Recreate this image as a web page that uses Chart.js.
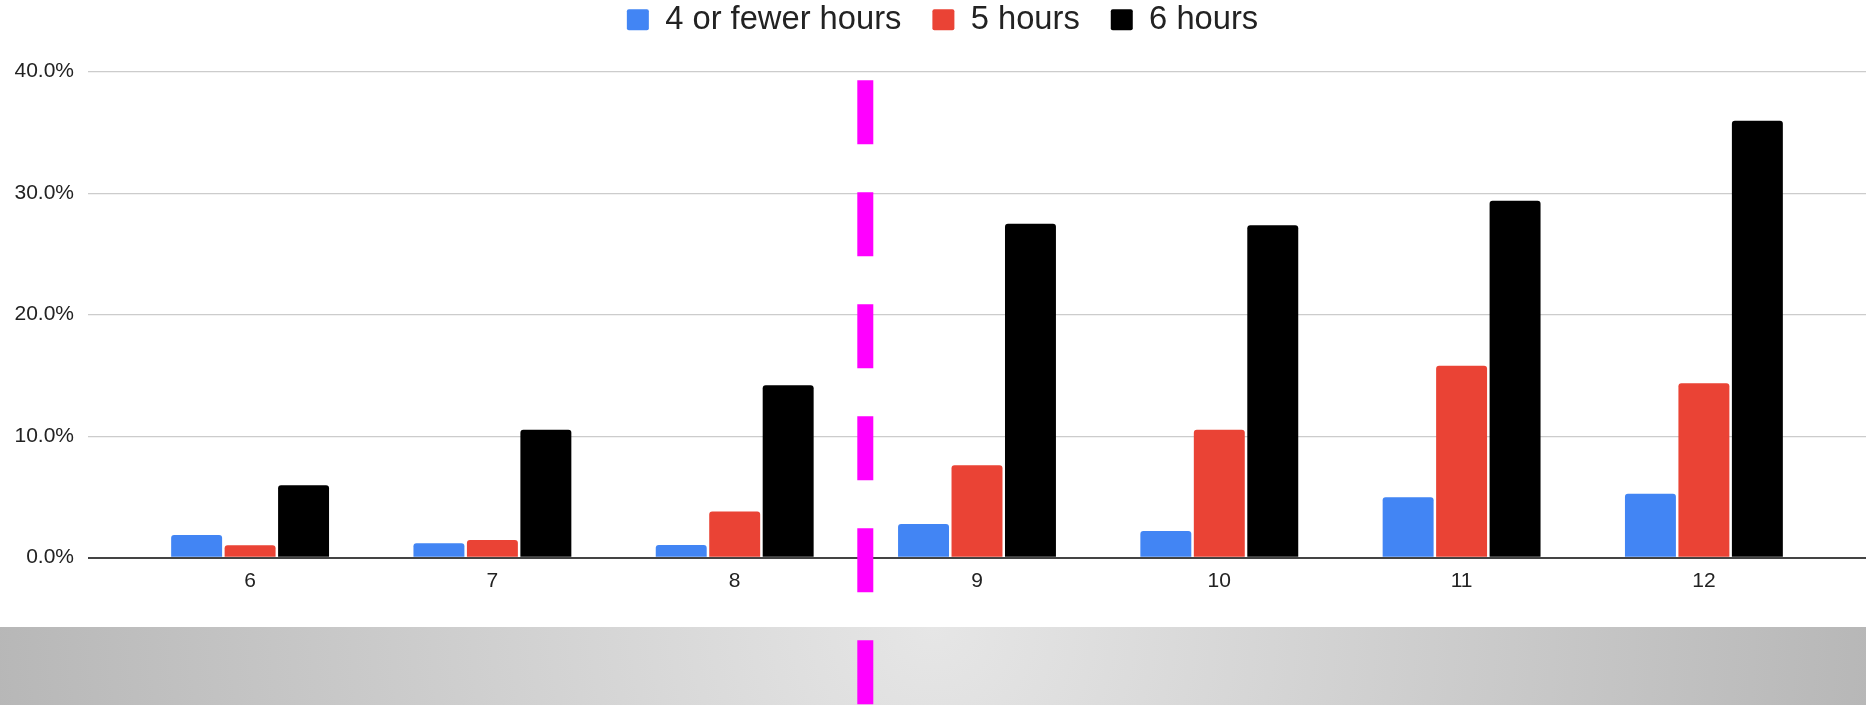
<!DOCTYPE html>
<html>
<head>
<meta charset="utf-8">
<script src="https://cdn.jsdelivr.net/npm/chart.js@4/dist/chart.umd.min.js"></script>
<style>
  html, body { margin: 0; padding: 0; width: 1866px; height: 705px; overflow: hidden; background: #ffffff; }
  #band { position: absolute; left: 0; top: 627px; width: 1866px; height: 78px;
          background: radial-gradient(960px 960px at 50% 0%, #e6e6e6 0%, #b6b6b6 100%); }
  #wrap { position: absolute; left: 0; top: 0; width: 1866px; height: 705px; }
</style>
</head>
<body>
<div id="band"></div>
<div id="wrap"><canvas id="c"></canvas></div>
<script>
// ---- data ----
const categories = [6, 7, 8, 9, 10, 11, 12];
const seriesNames = ['4 or fewer hours', '5 hours', '6 hours'];
const fourOrFewer = [1.87, 1.19, 1.05, 2.77, 2.20, 4.97, 5.27];
const fiveHours   = [1.02, 1.46, 3.80, 7.60, 10.53, 15.80, 14.35];
const sixHours    = [5.96, 10.53, 14.19, 27.49, 27.36, 29.38, 35.97];
const yTicks = [0, 10, 20, 30, 40];
const dividerX = 8.539;      // position of the magenta dashed divider (x units)
const dividerTopY = 39.3;    // where the divider starts (y units)

const colors = ['#4285F4', '#EA4335', '#000000'];
const FONT = "'Liberation Sans', Arial, sans-serif";

const toPoints = arr => categories.map((c, i) => ({ x: c, y: arr[i] }));

const legendSpacer = {
  id: 'legendSpacer',
  beforeInit(chart) {
    const origFit = chart.legend.fit;
    chart.legend.fit = function () {
      origFit.call(this);
      this.height = 99.2;
    };
  }
};

const divider = {
  id: 'divider',
  afterDraw(chart) {
    const ctx = chart.ctx;
    const x = chart.scales.x.getPixelForValue(dividerX);
    const y0 = chart.scales.y.getPixelForValue(dividerTopY);
    ctx.save();
    ctx.strokeStyle = '#ff00ff';
    ctx.lineWidth = 16;
    ctx.setLineDash([64, 48]);
    ctx.beginPath();
    ctx.moveTo(x, y0);
    ctx.lineTo(x, chart.height);
    ctx.stroke();
    ctx.restore();
  }
};

const mkDs = (label, arr, color) => ({
  label,
  data: toPoints(arr),
  backgroundColor: color,
  borderWidth: 0,
  borderRadius: { topLeft: 3, topRight: 3, bottomLeft: 0, bottomRight: 0 },
  borderSkipped: false,
  categoryPercentage: 0.662,
  barPercentage: 0.953
});

new Chart(document.getElementById('c'), {
  type: 'bar',
  data: {
    datasets: [
      mkDs(seriesNames[0], fourOrFewer, colors[0]),
      mkDs(seriesNames[1], fiveHours, colors[1]),
      mkDs(seriesNames[2], sixHours, colors[2])
    ]
  },
  options: {
    responsive: true,
    maintainAspectRatio: false,
    animation: false,
    devicePixelRatio: 1,
    layout: { padding: { top: -27.5, left: 13, right: -6, bottom: 0 } },
    plugins: {
      tooltip: { enabled: false },
      legend: {
        display: true,
        position: 'top',
        align: 'center',
        labels: {
          boxWidth: 22,
          boxHeight: 21,
          padding: 31,
          color: '#222222',
          useBorderRadius: true,
          borderRadius: 2,
          font: { family: FONT, size: 32.7 }
        }
      }
    },
    scales: {
      x: {
        type: 'linear',
        min: 5.331,
        max: 12.669,
        offset: false,
        grid: { display: false, drawTicks: false },
        border: { display: false },
        afterBuildTicks: s => { s.ticks = categories.map(v => ({ value: v })); },
        afterFit: s => { s.height = 147.3; },
        ticks: {
          padding: 11,
          color: '#222222',
          font: { family: FONT, size: 21 },
          callback: v => String(v)
        }
      },
      y: {
        min: 0,
        max: 40,
        afterBuildTicks: s => { s.ticks = yTicks.map(v => ({ value: v })); },
        afterFit: s => { s.width = 75; },
        grid: {
          drawTicks: false,
          color: c => (c.tick && c.tick.value === 0) ? '#444444' : '#cccccc',
          lineWidth: c => (c.tick && c.tick.value === 0) ? 2 : 1.3
        },
        border: { display: false },
        ticks: {
          padding: 14,
          color: '#222222',
          font: { family: FONT, size: 21 },
          callback: v => Number(v).toFixed(1) + '%'
        }
      }
    }
  },
  plugins: [legendSpacer, divider]
});
</script>
</body>
</html>
